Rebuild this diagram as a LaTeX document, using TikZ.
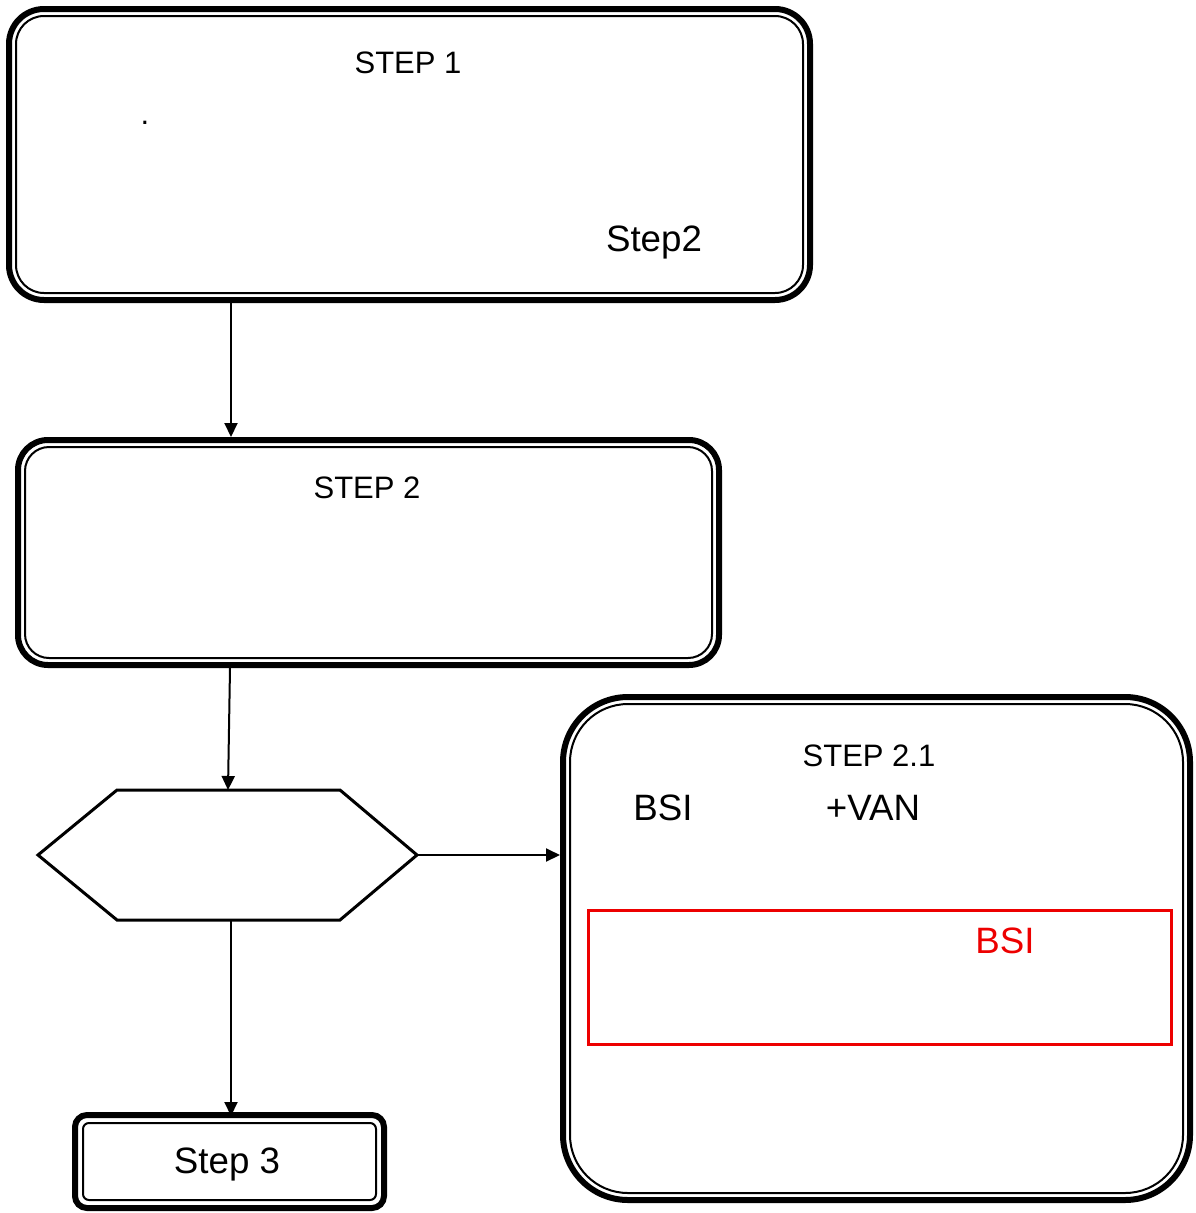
\documentclass[tikz,border=0pt]{standalone}
\usepackage{fontspec}
\setmainfont{Liberation Sans}
\usetikzlibrary{arrows.meta}
\definecolor{warnred}{RGB}{237,0,0}
\tikzset{
  outerbox/.style={draw,line width=6pt,rounded corners=#1,inner sep=0pt},
  innerbox/.style={draw,line width=2pt,rounded corners=#1,inner sep=0pt},
  flow/.style={line width=2pt,-{Triangle[length=14pt,width=13pt]}},
  capt/.style={font=\fontsize{31}{36}\selectfont,inner sep=0pt,anchor=base},
  big/.style={font=\fontsize{36.7}{42}\selectfont,inner sep=0pt,anchor=base}
}

\begin{document}
\begin{tikzpicture}[x=1pt,y=-1pt]
\useasboundingbox (0,0) rectangle (1195,1213);

\node [outerbox=35pt,minimum width=801pt,minimum height=291pt] (s1) at (409.5,154.5) {};
\node [innerbox=28pt,minimum width=787pt,minimum height=277pt] (s1in) at (409.5,154.5) {};
\node [capt] (s1title) at (408,73) {STEP 1};
\node [capt] (s1dot) at (145,124) {.};
\node [big] (s1next) at (654,251) {Step2};

\node [outerbox=30pt,minimum width=701pt,minimum height=225pt] (s2) at (368.5,552.5) {};
\node [innerbox=24pt,minimum width=687pt,minimum height=211pt] (s2in) at (368.5,552.5) {};
\node [capt] (s2title) at (367,498) {STEP 2};

% decision
\draw [line width=3pt,line join=miter] (38,855) coordinate (hexW) -- (117,790) -- (340,790) -- (417,855) coordinate (hexE)
  -- (340,920) -- (117,920) -- cycle;
\coordinate (hexN) at (228,790);
\coordinate (hexS) at (231,920);

\node [outerbox=65pt,minimum width=627pt,minimum height=503pt] (s21) at (876.5,948.5) {};
\node [innerbox=58pt,minimum width=613pt,minimum height=489pt] (s21in) at (876.5,948.5) {};
\node [capt] (s21title) at (869,766) {STEP 2.1};
\node [big] (s21a) at (663,820) {BSI};
\node [big] (s21b) at (873,820) {+VAN};
\node [draw=warnred,line width=3pt,minimum width=583pt,minimum height=134pt,inner sep=0pt] (alert) at (879.5,977) {};
\node [big,text=warnred] (alerttext) at (1005,953) {BSI};

\node [outerbox=12pt,minimum width=309pt,minimum height=93pt] (s3) at (229.5,1161.5) {};
\node [innerbox=6pt,minimum width=293pt,minimum height=77pt] (s3in) at (229.5,1161.5) {};
\node [big] (s3text) at (227,1173) {Step 3};

\draw [flow] (s1.south -| hexS) -- (s2.north -| hexS);
\draw [flow] (230,668) -- (hexN);
\draw [flow] (hexE) -- (s21.west |- hexE);
\draw [flow] (hexS) -- ([yshift=-4pt]s3.north -| hexS);
\end{tikzpicture}
\end{document}
